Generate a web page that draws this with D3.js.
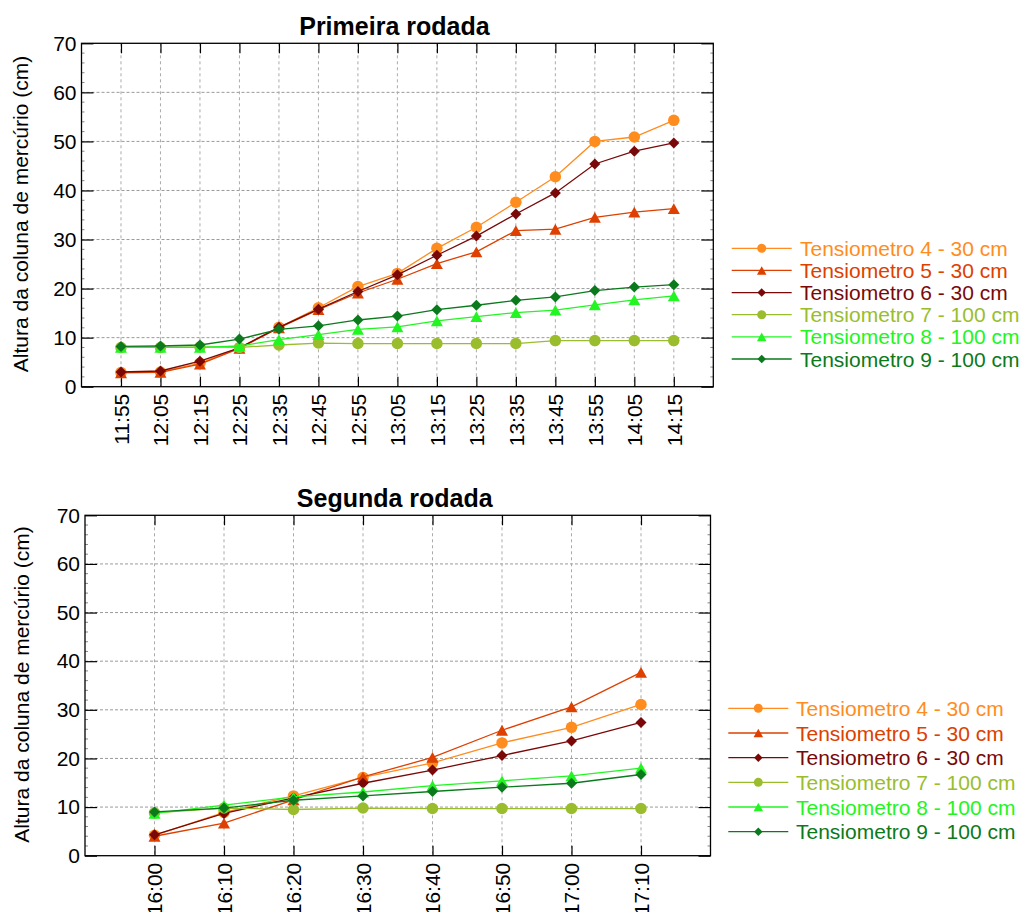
<!DOCTYPE html>
<html>
<head>
<meta charset="utf-8">
<script src="https://cdn.jsdelivr.net/npm/d3@7"></script>
<style>
  html, body { margin: 0; padding: 0; background: #fff; }
  svg { display: block; font-family: "Liberation Sans", Arial, sans-serif; }
</style>
</head>
<body>
<svg id="chart" width="1027" height="912"></svg>
<script>
// Readings of the six tensiometers (mercury column height, cm)
const seriesNames = [
  "Tensiometro 4 - 30 cm",
  "Tensiometro 5 - 30 cm",
  "Tensiometro 6 - 30 cm",
  "Tensiometro 7 - 100 cm",
  "Tensiometro 8 - 100 cm",
  "Tensiometro 9 - 100 cm"
];
const yTicks = [0, 10, 20, 30, 40, 50, 60, 70];

// First run
const times1 = ["11:55","12:05","12:15","12:25","12:35","12:45","12:55","13:05","13:15","13:25","13:35","13:45","13:55","14:05","14:15"];
const t4Run1 = [2.9, 3.0, 4.8, 7.9, 12.1, 16.1, 20.4, 23.1, 28.2, 32.5, 37.6, 42.8, 50.0, 50.9, 54.3];
const t5Run1 = [2.8, 2.9, 4.6, 7.8, 12.0, 15.7, 19.1, 21.9, 25.1, 27.5, 31.8, 32.1, 34.5, 35.6, 36.3];
const t6Run1 = [3.0, 3.2, 5.2, 7.9, 12.1, 15.8, 19.4, 22.8, 26.8, 30.7, 35.2, 39.5, 45.4, 48.0, 49.7];
const t7Run1 = [8.0, 8.0, 8.1, 8.0, 8.5, 8.9, 8.8, 8.8, 8.8, 8.8, 8.8, 9.4, 9.4, 9.4, 9.4];
const t8Run1 = [8.0, 8.0, 8.0, 8.3, 9.6, 10.6, 11.7, 12.2, 13.4, 14.3, 15.1, 15.6, 16.7, 17.7, 18.5];
const t9Run1 = [8.2, 8.3, 8.5, 9.7, 11.7, 12.4, 13.6, 14.4, 15.7, 16.6, 17.6, 18.3, 19.6, 20.3, 20.8];

// Second run
const times2 = ["16:00","16:10","16:20","16:30","16:40","16:50","17:00","17:10"];
const t4Run2 = [4.2, 8.9, 12.3, 16.1, 19.1, 23.2, 26.4, 31.1];
const t5Run2 = [4.0, 6.7, 11.5, 16.2, 20.2, 25.8, 30.6, 37.7];
const t6Run2 = [4.3, 8.7, 11.9, 14.9, 17.6, 20.6, 23.6, 27.4];
const t7Run2 = [8.8, 9.8, 9.5, 9.8, 9.7, 9.7, 9.7, 9.7];
const t8Run2 = [8.7, 10.4, 12.1, 13.1, 14.4, 15.4, 16.4, 18.0];
const t9Run2 = [9.0, 9.8, 11.4, 12.3, 13.2, 14.1, 14.9, 16.7];

// Styling per series
const seriesColors = ["#FF8C1E", "#DD4000", "#7A0808", "#9ABD2E", "#22F522", "#0A7A1C"];
const seriesShapes = ["circle", "triangle", "diamond", "circle", "triangle", "diamond"];

const svg = d3.select("#chart");
const toMin = s => { const [h, m] = s.split(":").map(Number); return h * 60 + m; };

function markerPath(shape, s) {
  // s = nominal marker size in px
  if (shape === "triangle") {
    const w = s, h = s * 0.9;
    return `M0,${-h/2}L${w/2},${h/2}L${-w/2},${h/2}Z`;
  }
  if (shape === "diamond") {
    const r = s / 2;
    return `M0,${-r}L${r},0L0,${r}L${-r},0Z`;
  }
  const r = s / 2;
  return `M${r},0A${r},${r} 0 1,1 ${-r},0A${r},${r} 0 1,1 ${r},0Z`;
}
const markerSize = { circle: 11.5, triangle: 12, diamond: 11 };
const legendMarkerSize = { circle: 9, triangle: 9.5, diamond: 8.5 };

function drawPanel(opt) {
  const { times, series, title, x0, x1, yTop, yBot, titleY, ylabelX, legend } = opt;
  const g = svg.append("g");
  const mins = times.map(toMin);
  const x = d3.scaleLinear()
    .domain([mins[0] - 10, mins[mins.length - 1] + 10])
    .range([x0, x1]);
  const y = d3.scaleLinear().domain([0, 70]).range([yBot, yTop]);

  // Grid
  g.append("g").selectAll("line")
    .data(yTicks.filter(v => v > 0 && v < 70))
    .join("line")
    .attr("x1", x0).attr("x2", x1)
    .attr("y1", d => y(d)).attr("y2", d => y(d))
    .attr("stroke", "#9a9a9a").attr("stroke-width", 1)
    .attr("stroke-dasharray", "3,2");
  g.append("g").selectAll("line")
    .data(mins)
    .join("line")
    .attr("x1", d => x(d)).attr("x2", d => x(d))
    .attr("y1", yTop).attr("y2", yBot)
    .attr("stroke", "#aaaaaa").attr("stroke-width", 1)
    .attr("stroke-dasharray", "3,3");

  // Minor ticks on the vertical axes
  const minor = d3.range(2, 70, 2).filter(v => v % 10 !== 0);
  g.append("g").selectAll("line").data(minor).join("line")
    .attr("x1", x0).attr("x2", x0 + 3)
    .attr("y1", d => y(d)).attr("y2", d => y(d))
    .attr("stroke", "#888").attr("stroke-width", 1);
  g.append("g").selectAll("line").data(minor).join("line")
    .attr("x1", x1).attr("x2", x1 - 3)
    .attr("y1", d => y(d)).attr("y2", d => y(d))
    .attr("stroke", "#888").attr("stroke-width", 1);

  // Axes (ticks pointing inward)
  const fontSize = "21px";
  const left = g.append("g").attr("transform", `translate(${x0},0)`)
    .call(d3.axisLeft(y).tickValues(yTicks).tickSizeInner(-12).tickSizeOuter(0).tickPadding(5));
  left.selectAll("text").attr("font-size", fontSize).attr("fill", "#000")
    .attr("font-family", "Liberation Sans, Arial, sans-serif");
  const right = g.append("g").attr("transform", `translate(${x1},0)`)
    .call(d3.axisRight(y).tickValues(yTicks).tickSizeInner(-12).tickSizeOuter(0).tickFormat(""));
  const bottom = g.append("g").attr("transform", `translate(0,${yBot})`)
    .call(d3.axisBottom(x).tickValues(mins).tickSizeInner(-10).tickSizeOuter(0).tickFormat((d, i) => times[i]));
  bottom.selectAll("text")
    .attr("font-size", fontSize).attr("fill", "#000")
    .attr("font-family", "Liberation Sans, Arial, sans-serif")
    .attr("text-anchor", "end")
    .attr("transform", "rotate(-90)")
    .attr("x", -7).attr("y", 0).attr("dy", "0.35em");
  const top = g.append("g").attr("transform", `translate(0,${yTop})`)
    .call(d3.axisTop(x).tickValues(mins).tickSizeInner(-10).tickSizeOuter(0).tickFormat(""));
  [left, right, bottom, top].forEach(a => {
    a.select(".domain").remove();
    a.selectAll(".tick line").attr("stroke", "#000").attr("stroke-width", 1.2);
  });

  // Frame
  g.append("rect")
    .attr("x", x0).attr("y", yTop)
    .attr("width", x1 - x0).attr("height", yBot - yTop)
    .attr("fill", "none").attr("stroke", "#000").attr("stroke-width", 1.3);

  // Series
  const line = d3.line().x(d => x(d.t)).y(d => y(d.v));
  series.forEach((vals, i) => {
    const pts = vals.map((v, j) => ({ t: mins[j], v }));
    g.append("path").datum(pts)
      .attr("d", line).attr("fill", "none")
      .attr("stroke", seriesColors[i]).attr("stroke-width", 1.3);
    g.append("g").selectAll("path").data(pts).join("path")
      .attr("transform", d => `translate(${x(d.t)},${y(d.v)})`)
      .attr("d", markerPath(seriesShapes[i], markerSize[seriesShapes[i]]))
      .attr("fill", seriesColors[i]);
  });

  // Title
  g.append("text")
    .attr("x", (x0 + x1) / 2 - 3).attr("y", titleY)
    .attr("text-anchor", "middle")
    .attr("font-size", "25px").attr("font-weight", "bold")
    .attr("fill", "#000")
    .text(title);

  // Y label
  g.append("text")
    .attr("transform", `translate(${ylabelX},${(yTop + yBot) / 2 - 1}) rotate(-90)`)
    .attr("text-anchor", "middle")
    .attr("font-size", "21px").attr("fill", "#000")
    .text("Altura da coluna de mercúrio (cm)");

  // Legend
  const lg = g.append("g");
  seriesNames.forEach((name, i) => {
    const cy = legend.y + i * legend.step;
    lg.append("line")
      .attr("x1", legend.lx0).attr("x2", legend.lx1)
      .attr("y1", cy).attr("y2", cy)
      .attr("stroke", seriesColors[i]).attr("stroke-width", 1.3);
    lg.append("path")
      .attr("transform", `translate(${(legend.lx0 + legend.lx1) / 2},${cy})`)
      .attr("d", markerPath(seriesShapes[i], legendMarkerSize[seriesShapes[i]]))
      .attr("fill", seriesColors[i]);
    lg.append("text")
      .attr("x", legend.tx).attr("y", cy).attr("dy", "0.36em")
      .attr("font-size", "21px").attr("fill", seriesColors[i])
      .text(name);
  });
}

drawPanel({
  times: times1,
  series: [t4Run1, t5Run1, t6Run1, t7Run1, t8Run1, t9Run1],
  title: "Primeira rodada",
  x0: 81.5, x1: 713.3, yTop: 43.3, yBot: 386.7,
  titleY: 35, ylabelX: 28,
  legend: { y: 248.3, step: 22.14, lx0: 731.7, lx1: 791.7, tx: 800 }
});

drawPanel({
  times: times2,
  series: [t4Run2, t5Run2, t6Run2, t7Run2, t8Run2, t9Run2],
  title: "Segunda rodada",
  x0: 85, x1: 710.5, yTop: 515.3, yBot: 855.7,
  titleY: 507, ylabelX: 29,
  legend: { y: 708.3, step: 24.68, lx0: 728.3, lx1: 788.3, tx: 796 }
});
</script>
</body>
</html>
